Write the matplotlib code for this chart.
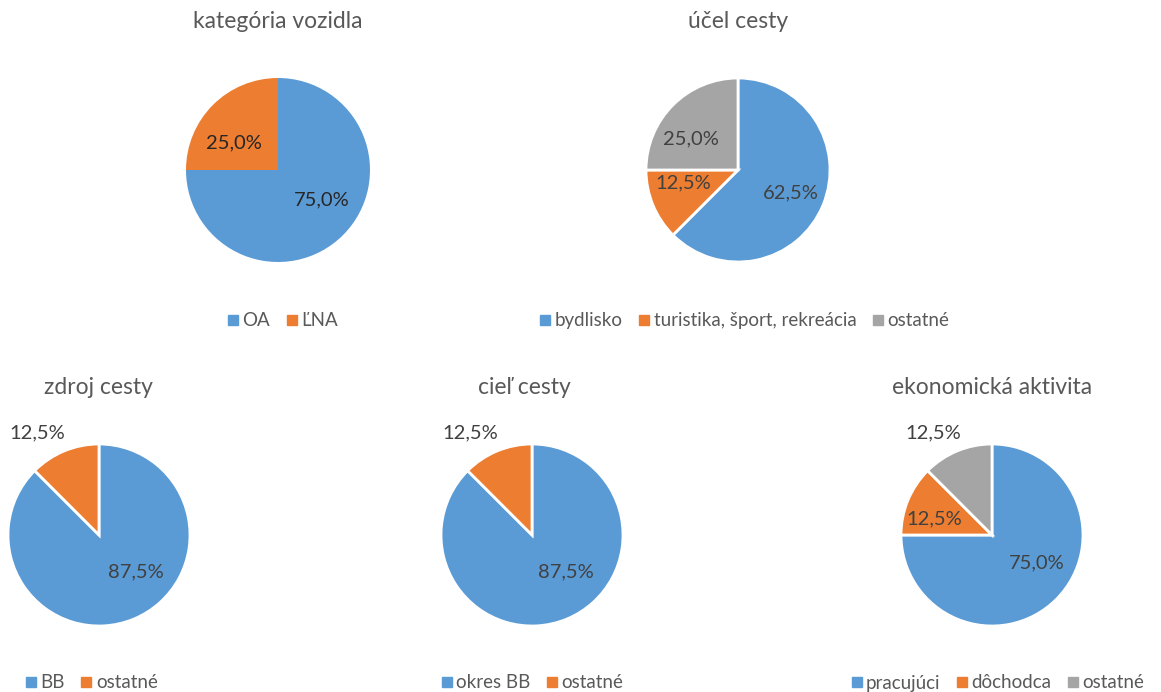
import matplotlib
matplotlib.use("Agg")
import matplotlib.pyplot as plt
from matplotlib.lines import Line2D

plt.rcParams['font.family'] = ['Lato', 'DejaVu Sans']

W, H = 1161, 692
BLUE, ORANGE, GRAY = '#5B9BD5', '#ED7D31', '#A5A5A5'

# ---- data ----
titles = ["kategória vozidla", "účel cesty", "zdroj cesty", "cieľ cesty", "ekonomická aktivita"]
cat_vozidlo = ["OA", "ĽNA"]
val_vozidlo = [75.0, 25.0]
cat_ucel = ["bydlisko", "turistika, šport, rekreácia", "ostatné"]
val_ucel = [62.5, 12.5, 25.0]
cat_zdroj = ["BB", "ostatné"]
val_zdroj = [87.5, 12.5]
cat_ciel = ["okres BB", "ostatné"]
val_ciel = [87.5, 12.5]
cat_ekon = ["pracujúci", "dôchodca", "ostatné"]
val_ekon = [75.0, 12.5, 12.5]

# ---- layout (pixels) ----
charts = [
    dict(cats=cat_vozidlo, vals=val_vozidlo, c=(278, 170), r=92, title_xy=(278, 22), leg_xy=(283, 321),
         lab=[(0.48, -0.32), (-0.48, 0.29)], lc='#262626', edge=False),
    dict(cats=cat_ucel, vals=val_ucel, c=(738, 170), r=92, title_xy=(738, 22), leg_xy=(745, 321),
         lab=[(0.57, -0.25), (-0.59, -0.14), (-0.51, 0.34)], lc='#404040', edge=True),
    dict(cats=cat_zdroj, vals=val_zdroj, c=(99, 535), r=91, title_xy=(98, 387), leg_xy=(92, 683),
         lab=[(0.40, -0.40), (-0.68, 1.12)], lc='#404040', edge=True),
    dict(cats=cat_ciel, vals=val_ciel, c=(532, 535), r=91, title_xy=(524, 387), leg_xy=(533, 683),
         lab=[(0.37, -0.40), (-0.68, 1.12)], lc='#404040', edge=True),
    dict(cats=cat_ekon, vals=val_ekon, c=(992, 535), r=91, title_xy=(992, 387), leg_xy=(998, 683),
         lab=[(0.49, -0.31), (-0.63, 0.18), (-0.65, 1.12)], lc='#404040', edge=True),
]
colors = [BLUE, ORANGE, GRAY]

fig = plt.figure(figsize=(W / 100, H / 100), dpi=100)
fig.patch.set_facecolor('white')

S = 1.45
for ch, title in zip(charts, titles):
    cx, cy = ch['c']
    r = ch['r']
    half = r * S
    ax = fig.add_axes([(cx - half) / W, 1 - (cy + half) / H, 2 * half / W, 2 * half / H])
    wp = dict(linewidth=2, edgecolor='white') if ch['edge'] else dict(linewidth=0)
    ax.pie(ch['vals'], colors=colors[:len(ch['vals'])], startangle=90, counterclock=False,
           radius=1.0, wedgeprops=wp)
    ax.set_xlim(-S, S)
    ax.set_ylim(-S, S)
    ax.set_aspect('equal')
    ax.axis('off')
    for v, (lx, ly) in zip(ch['vals'], ch['lab']):
        ax.text(lx, ly, f"{v:.1f}".replace('.', ',') + '%', ha='center', va='center',
                fontsize=14.5, color=ch['lc'])
    tx, ty = ch['title_xy']
    fig.text(tx / W, 1 - ty / H, title, ha='center', va='center', fontsize=16.5, color='#595959')
    handles = [Line2D([], [], marker='s', linestyle='none', markersize=7,
                      markerfacecolor=col, markeredgecolor=col) for col in colors[:len(ch['cats'])]]
    lx, ly = ch['leg_xy']
    fig.legend(handles, ch['cats'], loc='center', bbox_to_anchor=(lx / W, 1 - ly / H),
               ncol=len(ch['cats']), frameon=False, fontsize=13.5, labelcolor='#595959',
               handlelength=0.5, handletextpad=0.25, columnspacing=0.9, borderpad=0)

fig.savefig('out.png', dpi=100, facecolor='white')
